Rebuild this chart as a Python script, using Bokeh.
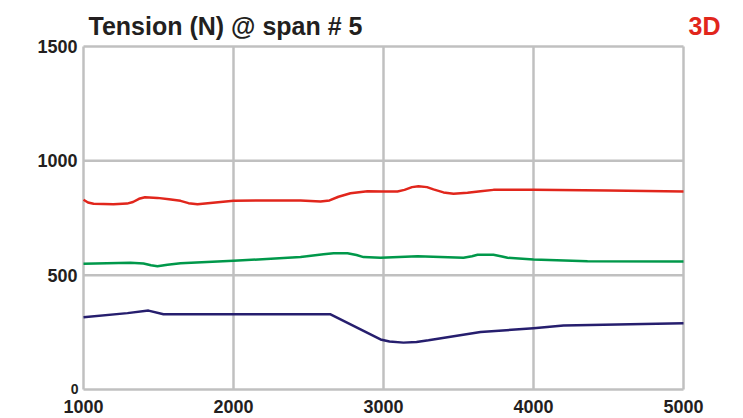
from bokeh.plotting import figure
from bokeh.models import Range1d
from bokeh.core.properties import value
from bokeh.embed import file_html
from bokeh.resources import INLINE

# ---- Data ----
red_x = [1000, 1030, 1067, 1200, 1290, 1330, 1370, 1410, 1493, 1570, 1647, 1700, 1760, 1880,
         2000, 2250, 2447, 2580, 2640, 2700, 2780, 2893, 2990, 3093, 3140, 3190, 3233, 3290,
         3333, 3400, 3467, 3560, 3647, 3733, 4000, 4500, 5000]
red_y = [830, 818, 812, 810, 813, 820, 834, 841, 838, 832, 825, 815, 810, 818,
         825, 827, 826, 822, 827, 843, 858, 867, 866, 866, 873, 885, 889, 885,
         875, 862, 856, 860, 867, 873, 873, 870, 866]

green_x = [1000, 1313, 1400, 1450, 1493, 1560, 1647, 2000, 2447, 2600, 2667, 2760, 2820, 2867,
           2980, 3227, 3533, 3590, 3627, 3733, 3790, 3827, 4000, 4360, 5000]
green_y = [550, 554, 551, 543, 539, 546, 552, 563, 579, 591, 596, 596, 588, 579,
           576, 583, 576, 583, 589, 589, 582, 576, 569, 561, 560]

blue_x = [1000, 1293, 1433, 1533, 2647, 2980, 3040, 3133, 3220, 3300, 3647, 4000, 4200, 5000]
blue_y = [316, 334, 345, 329, 329, 219, 210, 205, 208, 215, 251, 268, 280, 290]

x_ticks = [1000, 2000, 3000, 4000, 5000]
x_labels = ["1000", "2000", "3000", "4000", "5000"]
y_ticks = [0, 500, 1000, 1500]
y_labels = ["0", "500", "1000", "1500"]

title_text = "Tension (N) @ span # 5"
tag_text = "3D"

# ---- Layout (pixels on the canvas) ----
W, H = 735, 418
PL, PR, PT, PB = 83, 683, 46, 389          # plot box edges
xmin, xmax = x_ticks[0], x_ticks[-1]
ymin, ymax = y_ticks[0], y_ticks[-1]
dx = (xmax - xmin) / (PR - PL)              # data units per pixel
dy = (ymax - ymin) / (PB - PT)

FONT = value("Liberation Sans")
TXT = "#231f20"
GRID = "#c0c0c0"
RED = "#e1261c"

p = figure(width=W, height=H, output_backend="svg", toolbar_location=None,
           x_range=Range1d(xmin - PL * dx, xmax + (W - PR) * dx),
           y_range=Range1d(ymin - (H - PB) * dy, ymax + PT * dy),
           x_axis_location=None, y_axis_location=None, min_border=0)
p.outline_line_color = None
p.grid.visible = False
p.background_fill_color = "white"
p.border_fill_color = "white"

# grid / frame
p.segment(x0=x_ticks, y0=[ymin] * len(x_ticks), x1=x_ticks, y1=[ymax] * len(x_ticks),
          line_color=GRID, line_width=2.5)
p.segment(x0=[xmin] * len(y_ticks), y0=y_ticks, x1=[xmax] * len(y_ticks), y1=y_ticks,
          line_color=GRID, line_width=2.5)

# series
p.line(red_x, red_y, line_color=RED, line_width=2.5, line_join="round")
p.line(green_x, green_y, line_color="#00984a", line_width=2.5, line_join="round")
p.line(blue_x, blue_y, line_color="#261e6e", line_width=2.5, line_join="round")

# x tick labels
p.text(x=x_ticks, y=[ymin - 17 * dy] * len(x_ticks), text=x_labels,
       text_align="center", text_baseline="middle", text_font=FONT,
       text_font_style="bold", text_font_size="18px", text_color=TXT)
# y tick labels (the 0 label is smaller in the reference)
p.text(x=[xmin - 6 * dx] * (len(y_ticks) - 1), y=y_ticks[1:], text=y_labels[1:],
       text_align="right", text_baseline="middle", text_font=FONT,
       text_font_style="bold", text_font_size="18px", text_color=TXT)
p.text(x=[xmin - 5 * dx], y=[y_ticks[0] + 1 * dy], text=[y_labels[0]],
       text_align="right", text_baseline="middle", text_font=FONT,
       text_font_style="bold", text_font_size="14px", text_color=TXT)

# title and tag
p.text(x=[xmin + 5 * dx], y=[ymax + 21 * dy], text=[title_text],
       text_align="left", text_baseline="middle", text_font=FONT,
       text_font_style="bold", text_font_size="25px", text_color=TXT)
p.text(x=[xmax + 5 * dx], y=[ymax + 21 * dy], text=[tag_text],
       text_align="left", text_baseline="middle", text_font=FONT,
       text_font_style="bold", text_font_size="25px", text_color=RED)

open("out.html", "w").write(file_html(p, INLINE))
